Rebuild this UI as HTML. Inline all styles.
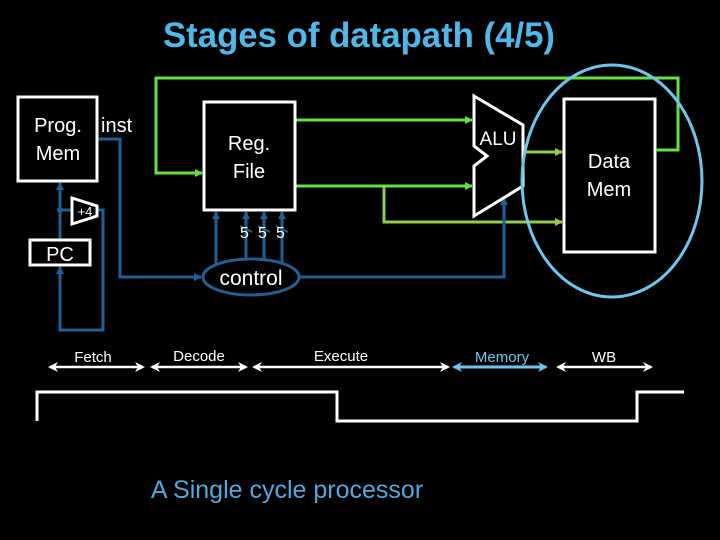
<!DOCTYPE html>
<html><head><style>body{margin:0;background:#000}svg{display:block}</style></head><body>
<svg width="720" height="540" viewBox="0 0 720 540" xmlns="http://www.w3.org/2000/svg" font-family="Liberation Sans, sans-serif">
<defs>
<marker id="ag" markerWidth="8" markerHeight="8" refX="7" refY="4" orient="auto" markerUnits="userSpaceOnUse"><path d="M0,0L8,4L0,8z" fill="#66e040"/></marker>
<marker id="al" markerWidth="8" markerHeight="8" refX="7" refY="4" orient="auto" markerUnits="userSpaceOnUse"><path d="M0,0L8,4L0,8z" fill="#8fcc50"/></marker>
<marker id="ab" markerWidth="8" markerHeight="8" refX="7" refY="4" orient="auto" markerUnits="userSpaceOnUse"><path d="M0,0L8,4L0,8z" fill="#1f5f94"/></marker>
<marker id="aw" markerWidth="10" markerHeight="10" refX="8" refY="5" orient="auto-start-reverse" markerUnits="userSpaceOnUse"><path d="M0,0L10,5L0,10L3,5z" fill="#fff"/></marker>
<marker id="ac" markerWidth="10" markerHeight="10" refX="8" refY="5" orient="auto-start-reverse" markerUnits="userSpaceOnUse"><path d="M0,0L10,5L0,10L3,5z" fill="#6ec6f0"/></marker>
</defs>
<text x="359" y="47" text-anchor="middle" font-size="35" font-weight="bold" fill="#4db8ea" textLength="392" lengthAdjust="spacingAndGlyphs">Stages of datapath (4/5)</text>
<polyline points="656,150 678,150 678,78 156,78 156,173 202,173" fill="none" stroke="#66e040" stroke-width="3" marker-end="url(#ag)"/>
<line x1="295" y1="120" x2="472" y2="120" stroke="#66e040" stroke-width="3" marker-end="url(#ag)"/>
<line x1="295" y1="186" x2="472" y2="186" stroke="#66e040" stroke-width="3" marker-end="url(#ag)"/>
<line x1="525" y1="152" x2="562" y2="152" stroke="#8fcc50" stroke-width="3" marker-end="url(#al)"/>
<polyline points="384,186 384,222 562,222" fill="none" stroke="#8fcc50" stroke-width="3" marker-end="url(#al)"/>
<polyline points="97,139 120,139 120,277 201,277" fill="none" stroke="#1f5f94" stroke-width="3" marker-end="url(#ab)"/>
<polyline points="299,277 504,277 504,198" fill="none" stroke="#1f5f94" stroke-width="3" marker-end="url(#ab)"/>
<line x1="216" y1="265" x2="216" y2="212" stroke="#1f5f94" stroke-width="3" marker-end="url(#ab)"/>
<line x1="246" y1="260" x2="246" y2="212" stroke="#1f5f94" stroke-width="3" marker-end="url(#ab)"/>
<line x1="264" y1="260" x2="264" y2="212" stroke="#1f5f94" stroke-width="3" marker-end="url(#ab)"/>
<line x1="282" y1="262" x2="282" y2="212" stroke="#1f5f94" stroke-width="3" marker-end="url(#ab)"/>
<g stroke="#1f5f94" stroke-width="2"><line x1="240" y1="226" x2="252" y2="232"/><line x1="258" y1="226" x2="270" y2="232"/><line x1="276" y1="226" x2="288" y2="232"/></g>
<line x1="60" y1="240" x2="60" y2="183" stroke="#1f5f94" stroke-width="3" marker-end="url(#ab)"/>
<line x1="60" y1="210" x2="72" y2="210" stroke="#1f5f94" stroke-width="3"/>
<circle cx="60" cy="210" r="3" fill="#1f5f94"/>
<polyline points="97,210 103,210 103,330 60,330 60,267" fill="none" stroke="#1f5f94" stroke-width="3" marker-end="url(#ab)"/>
<ellipse cx="251" cy="277" rx="48" ry="18" fill="#000" stroke="#1f5f94" stroke-width="3"/>
<text x="251" y="285" text-anchor="middle" font-size="21" fill="#fff">control</text>
<text x="240" y="238" font-size="16" fill="#fff">5</text><text x="258" y="238" font-size="16" fill="#fff">5</text><text x="276" y="238" font-size="16" fill="#fff">5</text>
<rect x="18" y="97" width="79" height="84" fill="#000" stroke="#fff" stroke-width="3"/>
<text x="58" y="132" text-anchor="middle" font-size="20" fill="#fff">Prog.</text>
<text x="58" y="160" text-anchor="middle" font-size="20" fill="#fff">Mem</text>
<text x="101" y="132" font-size="20" fill="#fff">inst</text>
<rect x="30" y="240" width="60" height="25" fill="#000" stroke="#fff" stroke-width="3"/>
<text x="60" y="261" text-anchor="middle" font-size="20" fill="#fff">PC</text>
<polygon points="72,198 97,206 97,216 72,224" fill="#000" stroke="#fff" stroke-width="3"/>
<text x="85" y="216" text-anchor="middle" font-size="13" fill="#fff">+4</text>
<rect x="204" y="102" width="91" height="108" fill="#000" stroke="#fff" stroke-width="3"/>
<text x="249" y="150" text-anchor="middle" font-size="20" fill="#fff">Reg.</text>
<text x="249" y="178" text-anchor="middle" font-size="20" fill="#fff">File</text>
<polygon points="474,96 523,125 523,186 474,216 474,166 487,156 474,146" fill="#000" stroke="#fff" stroke-width="3"/>
<text x="498" y="145" text-anchor="middle" font-size="19" fill="#fff">ALU</text>
<rect x="564" y="99" width="91" height="153" fill="#000" stroke="#fff" stroke-width="3"/>
<text x="609" y="168" text-anchor="middle" font-size="20" fill="#fff">Data</text>
<text x="609" y="196" text-anchor="middle" font-size="20" fill="#fff">Mem</text>
<line x1="656" y1="150" x2="678" y2="150" stroke="#66e040" stroke-width="3"/>
<ellipse cx="612" cy="181" rx="90" ry="116" fill="none" stroke="#6ec6f0" stroke-width="3"/>
<g font-size="15" fill="#fff" text-anchor="middle">
<text x="93" y="362">Fetch</text><text x="199" y="361">Decode</text><text x="341" y="361">Execute</text><text x="502" y="362" fill="#6ec6f0">Memory</text><text x="604" y="362">WB</text></g>
<g stroke="#fff" stroke-width="2.5">
<line x1="50" y1="367" x2="143" y2="367" marker-start="url(#aw)" marker-end="url(#aw)"/>
<line x1="152" y1="367" x2="246" y2="367" marker-start="url(#aw)" marker-end="url(#aw)"/>
<line x1="254" y1="367" x2="448" y2="367" marker-start="url(#aw)" marker-end="url(#aw)"/>
<line x1="558" y1="367" x2="651" y2="367" marker-start="url(#aw)" marker-end="url(#aw)"/>
</g>
<line x1="454" y1="367" x2="546" y2="367" stroke="#6ec6f0" stroke-width="3" marker-start="url(#ac)" marker-end="url(#ac)"/>
<polyline points="37,421 37,392 337,392 337,421 637,421 637,392 684,392" fill="none" stroke="#fff" stroke-width="3"/>
<text x="287" y="498" text-anchor="middle" font-size="25" fill="#4fa8e0">A Single cycle processor</text>
</svg>
</body></html>
